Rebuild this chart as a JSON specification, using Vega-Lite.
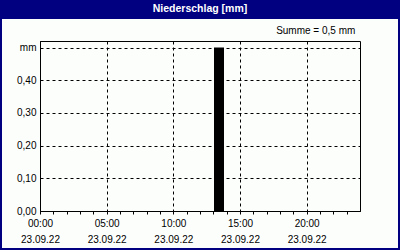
{
  "$schema": "https://vega.github.io/schema/vega-lite/v6.json",
  "autosize": "none",
  "width": 320,
  "height": 170,
  "padding": {"left": 40, "top": 41, "right": 40, "bottom": 39},
  "background": "#fcfefc",
  "config": {
    "view": {"stroke": "black", "strokeWidth": 1},
    "font": "Liberation Sans"
  },
  "resolve": {"axis": {"x": "independent", "y": "independent"}},
  "data": {"values": [{"start": "2022-09-23T13:03", "end": "2022-09-23T13:48", "mm": 0.5}]},
  "layer": [
    {
      "mark": {"type": "rect", "color": "black"},
      "encoding": {
        "x": {
          "field": "start",
          "type": "temporal",
          "scale": {"domain": [{"year": 2022, "month": 9, "date": 23, "hours": 0}, {"year": 2022, "month": 9, "date": 24, "hours": 0}], "nice": false},
          "axis": {
            "title": null,
            "values": [
              {"year": 2022, "month": 9, "date": 23, "hours": 0},
              {"year": 2022, "month": 9, "date": 23, "hours": 1},
              {"year": 2022, "month": 9, "date": 23, "hours": 2},
              {"year": 2022, "month": 9, "date": 23, "hours": 3},
              {"year": 2022, "month": 9, "date": 23, "hours": 4},
              {"year": 2022, "month": 9, "date": 23, "hours": 5},
              {"year": 2022, "month": 9, "date": 23, "hours": 6},
              {"year": 2022, "month": 9, "date": 23, "hours": 7},
              {"year": 2022, "month": 9, "date": 23, "hours": 8},
              {"year": 2022, "month": 9, "date": 23, "hours": 9},
              {"year": 2022, "month": 9, "date": 23, "hours": 10},
              {"year": 2022, "month": 9, "date": 23, "hours": 11},
              {"year": 2022, "month": 9, "date": 23, "hours": 12},
              {"year": 2022, "month": 9, "date": 23, "hours": 13},
              {"year": 2022, "month": 9, "date": 23, "hours": 14},
              {"year": 2022, "month": 9, "date": 23, "hours": 15},
              {"year": 2022, "month": 9, "date": 23, "hours": 16},
              {"year": 2022, "month": 9, "date": 23, "hours": 17},
              {"year": 2022, "month": 9, "date": 23, "hours": 18},
              {"year": 2022, "month": 9, "date": 23, "hours": 19},
              {"year": 2022, "month": 9, "date": 23, "hours": 20},
              {"year": 2022, "month": 9, "date": 23, "hours": 21},
              {"year": 2022, "month": 9, "date": 23, "hours": 22},
              {"year": 2022, "month": 9, "date": 23, "hours": 23}
            ],
            "labelExpr": "hours(datum.value) % 5 == 0 ? [timeFormat(datum.value,'%H:%M'), timeFormat(datum.value,'%d.%m.%y')] : ''",
            "labelFlush": false,
            "labelOverlap": false,
            "labelBound": false,
            "labelFontSize": 10,
            "labelColor": "black",
            "labelLineHeight": 16,
            "labelPadding": 4,
            "tickSize": 3,
            "tickColor": "black",
            "domainColor": "black",
            "grid": true,
            "gridColor": {"condition": {"test": "hours(datum.value) % 5 == 0", "value": "black"}, "value": "transparent"},
            "gridOpacity": 1,
            "gridDash": [3, 3]
          }
        },
        "x2": {"field": "end"},
        "y": {
          "field": "mm",
          "type": "quantitative",
          "scale": {"domain": [0, 0.52], "nice": false, "zero": true},
          "axis": {
            "title": null,
            "values": [0, 0.1, 0.2, 0.3, 0.4, 0.5],
            "labelExpr": "datum.value >= 0.5 ? 'mm' : replace(format(datum.value, '.2f'), '.', ',')",
            "ticks": false,
            "labelPadding": 4,
            "labelFontSize": 10,
            "labelColor": "black",
            "domainColor": "black",
            "grid": true,
            "gridColor": "black",
            "gridOpacity": 1,
            "gridDash": [3, 3]
          }
        },
        "y2": {"datum": 0}
      }
    },
    {
      "mark": {"type": "text", "align": "right", "baseline": "alphabetic", "fontSize": 10, "color": "black", "text": "Summe = 0,5 mm"},
      "encoding": {
        "x": {"datum": {"year": 2022, "month": 9, "date": 23, "hours": 23, "minutes": 39}, "type": "temporal", "axis": null},
        "y": {"datum": 0.541, "type": "quantitative", "axis": null}
      }
    },
    {
      "mark": {"type": "rect", "fill": "#000080"},
      "encoding": {
        "x": {"datum": {"year": 2022, "month": 9, "date": 22, "hours": 20}, "type": "temporal", "axis": null},
        "x2": {"datum": {"year": 2022, "month": 9, "date": 24, "hours": 4}},
        "y": {"datum": 0.67, "type": "quantitative", "axis": null},
        "y2": {"datum": 0.587}
      }
    },
    {
      "mark": {"type": "rect", "fill": "transparent", "stroke": "#000080", "strokeWidth": 4},
      "encoding": {
        "x": {"datum": {"year": 2022, "month": 9, "date": 22, "hours": 21}, "type": "temporal", "axis": null},
        "x2": {"datum": {"year": 2022, "month": 9, "date": 24, "hours": 3}},
        "y": {"datum": 0.6455, "type": "quantitative", "axis": null},
        "y2": {"datum": -0.1193}
      }
    },
    {
      "mark": {"type": "text", "align": "center", "baseline": "alphabetic", "fontSize": 10.5, "fontWeight": "bold", "color": "white", "text": "Niederschlag [mm]"},
      "encoding": {
        "x": {"datum": {"year": 2022, "month": 9, "date": 23, "hours": 12}, "type": "temporal", "axis": null},
        "y": {"datum": 0.6088, "type": "quantitative", "axis": null}
      }
    }
  ]
}
